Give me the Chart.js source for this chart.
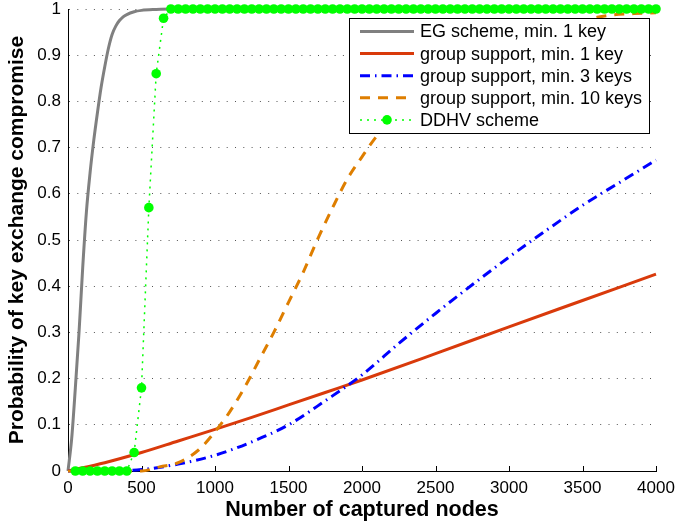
<!DOCTYPE html>
<html>
<head>
<meta charset="utf-8">
<title>Probability of key exchange compromise</title>
<script src="https://cdn.jsdelivr.net/npm/chart.js@4.4.1/dist/chart.umd.min.js"></script>
<style>
    html, body { margin: 0; padding: 0; background: #fff; }
    #wrap { width: 675px; height: 527px; position: relative; }
</style>
</head>
<body>
<div id="wrap"><canvas id="chart" width="675" height="527"></canvas></div>
<script>
// Values
const egX = [0, 25, 50, 75, 100, 125, 150, 175, 200, 225, 250, 275, 300, 325, 350, 375, 400, 450, 500, 600, 700, 4000];
const egY = [0, 0.07, 0.18, 0.3, 0.44, 0.56, 0.645, 0.715, 0.775, 0.83, 0.875, 0.915, 0.945, 0.963, 0.975, 0.983, 0.988, 0.994, 0.997, 0.999, 1, 1];

const gs1X = [0, 250, 500, 750, 1000, 1250, 1500, 1750, 2000, 2500, 3000, 3500, 4000];
const gs1Y = [0, 0.018, 0.04, 0.065, 0.09, 0.116, 0.143, 0.17, 0.197, 0.254, 0.312, 0.369, 0.426];

const gs3X = [0, 250, 500, 750, 1000, 1250, 1500, 1750, 2000, 2250, 2500, 2750, 3000, 3250, 3500, 3750, 4000];
const gs3Y = [0, 0, 0.003, 0.015, 0.034, 0.063, 0.1, 0.152, 0.208, 0.276, 0.341, 0.403, 0.463, 0.52, 0.575, 0.624, 0.673];

const gs10X = [0, 250, 500, 625, 750, 890, 1000, 1100, 1200, 1300, 1400, 1500, 1600, 1700, 1800, 1900, 2000, 2100, 2250, 2500, 2750, 3000, 3250, 3500, 3600, 3700, 3850, 4000];
const gs10Y = [0, 0, 0, 0.009, 0.018, 0.046, 0.085, 0.128, 0.18, 0.24, 0.3, 0.365, 0.43, 0.503, 0.57, 0.632, 0.68, 0.725, 0.78, 0.855, 0.91, 0.945, 0.962, 0.974, 0.982, 0.987, 0.99, 0.992];

const ddhvX = [50, 100, 150, 200, 250, 300, 350, 400, 450, 500, 550, 600, 650, 700, 750, 800, 850, 900, 950, 1000,
    1050, 1100, 1150, 1200, 1250, 1300, 1350, 1400, 1450, 1500, 1550, 1600, 1650, 1700, 1750, 1800, 1850, 1900, 1950, 2000,
    2050, 2100, 2150, 2200, 2250, 2300, 2350, 2400, 2450, 2500, 2550, 2600, 2650, 2700, 2750, 2800, 2850, 2900, 2950, 3000,
    3050, 3100, 3150, 3200, 3250, 3300, 3350, 3400, 3450, 3500, 3550, 3600, 3650, 3700, 3750, 3800, 3850, 3900, 3950, 4000];
const ddhvY = [0, 0, 0, 0, 0, 0, 0, 0, 0.04, 0.18, 0.57, 0.86, 0.98, 1, 1, 1, 1, 1, 1, 1,
    1, 1, 1, 1, 1, 1, 1, 1, 1, 1, 1, 1, 1, 1, 1, 1, 1, 1, 1, 1,
    1, 1, 1, 1, 1, 1, 1, 1, 1, 1, 1, 1, 1, 1, 1, 1, 1, 1, 1, 1,
    1, 1, 1, 1, 1, 1, 1, 1, 1, 1, 1, 1, 1, 1, 1, 1, 1, 1, 1, 1];

const xTicks = [0, 500, 1000, 1500, 2000, 2500, 3000, 3500, 4000];
const xTickLabels = ['0', '500', '1000', '1500', '2000', '2500', '3000', '3500', '4000'];
const yTicks = [0, 0.1, 0.2, 0.3, 0.4, 0.5, 0.6, 0.7, 0.8, 0.9, 1];
const yTickLabels = ['0', '0.1', '0.2', '0.3', '0.4', '0.5', '0.6', '0.7', '0.8', '0.9', '1'];

const seriesNames = [
    'EG scheme, min. 1 key',
    'group support, min. 1 key',
    'group support, min. 3 keys',
    'group support, min. 10 keys',
    'DDHV scheme'
];

const FONT = "'Liberation Sans', Arial, Helvetica, sans-serif";

function pts(xs, ys) {
    return xs.map((x, i) => ({ x: x, y: ys[i] }));
}

// legend inside the plot + inward x ticks
const extras = {
    id: 'extras',
    beforeDatasetsDraw(chart) {
        const ctx = chart.ctx;
        const sx = chart.scales.x;
        const bottom = chart.chartArea.bottom;
        ctx.save();
        ctx.strokeStyle = '#000';
        ctx.lineWidth = 1;
        ctx.beginPath();
        xTicks.forEach(v => {
            if (v === 0) return;
            const px = Math.round(sx.getPixelForValue(v)) + 0.5;
            ctx.moveTo(px, bottom);
            ctx.lineTo(px, bottom - 5);
        });
        ctx.stroke();
        ctx.restore();
    },
    afterDraw(chart) {
        const ctx = chart.ctx;
        const box = { x: 349.5, y: 18.5, w: 300, h: 115 };
        ctx.save();
        ctx.fillStyle = '#fff';
        ctx.fillRect(box.x, box.y, box.w, box.h);
        ctx.strokeStyle = '#000';
        ctx.lineWidth = 1;
        ctx.strokeRect(box.x, box.y, box.w, box.h);

        ctx.font = '18px ' + FONT;
        ctx.textBaseline = 'middle';
        ctx.textAlign = 'left';
        chart.data.datasets.forEach((ds, i) => {
            const y = 31.5 + i * 22.1;
            ctx.save();
            ctx.strokeStyle = ds.borderColor;
            ctx.lineWidth = ds.borderWidth;
            ctx.setLineDash(ds.borderDash || []);
            ctx.beginPath();
            ctx.moveTo(360, y);
            ctx.lineTo(414, y);
            ctx.stroke();
            if (ds.pointRadius) {
                ctx.fillStyle = ds.pointBackgroundColor;
                ctx.beginPath();
                ctx.arc(387, y, ds.pointRadius, 0, Math.PI * 2);
                ctx.fill();
            }
            ctx.restore();
            ctx.fillStyle = '#000';
            ctx.fillText(ds.label, 420, y + 1);
        });
        ctx.restore();
    }
};

const ctx = document.getElementById('chart').getContext('2d');
new Chart(ctx, {
    type: 'line',
    data: {
        datasets: [
            {
                label: seriesNames[0], data: pts(egX, egY),
                borderColor: '#808080', borderWidth: 3, pointRadius: 0,
                cubicInterpolationMode: 'monotone', fill: false, clip: false, order: 4
            },
            {
                label: seriesNames[1], data: pts(gs1X, gs1Y),
                borderColor: '#d93a0b', borderWidth: 3, pointRadius: 0,
                cubicInterpolationMode: 'monotone', fill: false, clip: false, order: 3
            },
            {
                label: seriesNames[2], data: pts(gs3X, gs3Y),
                borderColor: '#0000ff', borderWidth: 3, borderDash: [10, 5, 1.5, 5], pointRadius: 0,
                cubicInterpolationMode: 'monotone', fill: false, clip: false, order: 2
            },
            {
                label: seriesNames[3], data: pts(gs10X, gs10Y),
                borderColor: '#de7e00', borderWidth: 3, borderDash: [10, 8], pointRadius: 0,
                cubicInterpolationMode: 'monotone', fill: false, clip: false, order: 1
            },
            {
                label: seriesNames[4], data: pts(ddhvX, ddhvY),
                borderColor: '#00ff00', borderWidth: 1.5, borderDash: [2, 5],
                pointRadius: 4.8, pointBackgroundColor: '#00ff00', pointBorderWidth: 0,
                tension: 0, fill: false, clip: false, order: 0
            }
        ]
    },
    options: {
        responsive: false,
        animation: false,
        devicePixelRatio: 1,
        layout: { padding: { left: 0, right: 19, top: 9, bottom: 0 } },
        plugins: { legend: { display: false }, tooltip: { enabled: false } },
        events: [],
        scales: {
            x: {
                type: 'linear', min: 0, max: 4000,
                afterBuildTicks: s => { s.ticks = xTicks.map(v => ({ value: v })); },
                afterFit: s => { s.height = 56; s.paddingLeft = 0; s.paddingRight = 0; },
                grid: { display: false, drawTicks: false },
                border: { display: true, color: '#000', width: 1 },
                ticks: {
                    color: '#000', font: { family: FONT, size: 17 }, padding: 7.5,
                    maxRotation: 0, autoSkip: false,
                    callback: (v, i) => xTickLabels[i]
                },
                title: {
                    display: true, text: 'Number of captured nodes', color: '#000',
                    font: { family: FONT, size: 21.5, weight: 'bold' },
                    padding: { top: 0, bottom: 4 }
                }
            },
            y: {
                type: 'linear', min: 0, max: 1,
                afterBuildTicks: s => { s.ticks = yTicks.map(v => ({ value: v })); },
                afterFit: s => { s.width = 68; s.paddingTop = 0; s.paddingBottom = 0; },
                grid: { display: true, drawTicks: false, color: '#555', lineWidth: 1 },
                border: { display: true, color: '#000', width: 1, dash: [1, 7.3] },
                ticks: {
                    color: '#000', font: { family: FONT, size: 17 }, padding: 7,
                    autoSkip: false,
                    callback: (v, i) => yTickLabels[i]
                },
                title: {
                    display: true, text: 'Probability of key exchange compromise', color: '#000',
                    font: { family: FONT, size: 21, weight: 'bold' },
                    padding: { top: 5, bottom: 0 }
                }
            }
        }
    },
    plugins: [extras]
});
</script>
</body>
</html>
